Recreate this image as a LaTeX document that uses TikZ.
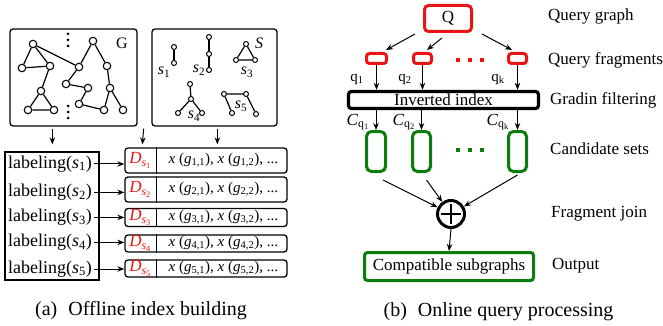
\documentclass[tikz,border=0pt]{standalone}
\usepackage{fontspec}
\setmainfont{Liberation Serif}
\usetikzlibrary{arrows.meta,calc}
\definecolor{qred}{RGB}{235,20,20}
\definecolor{cgreen}{RGB}{10,125,10}
\newcommand\myfs[1]{\fontsize{#1}{#1}\selectfont}
\tikzset{
  gn/.style={circle,draw,line width=1.1pt,inner sep=0pt,minimum size=7.5pt,fill=white},
  sn/.style={circle,draw,line width=1pt,inner sep=0pt,minimum size=5pt,fill=white},
  ge/.style={line width=1.2pt},
  panel/.style={draw,line width=1.3pt,rounded corners=3pt,inner sep=0pt},
  arr/.style={-{Stealth[length=7pt,width=5.5pt]},line width=1pt},
  labtxt/.style={anchor=base west,font=\myfs{18},inner sep=2pt},
  drow/.style={draw,line width=1.3pt,rounded corners=3pt,inner sep=0pt,minimum width=162pt},
  dlab/.style={text=qred,font=\myfs{17},inner sep=0pt},
  xlab/.style={font=\myfs{15},inner sep=0pt},
  redbox/.style={draw=qred,line width=3pt,rounded corners=3pt,inner sep=0pt},
  greenbox/.style={draw=cgreen,line width=3pt,rounded corners=5pt,inner sep=0pt},
  sidelab/.style={anchor=base west,font=\myfs{17},inner sep=0pt},
  qlab/.style={font=\myfs{15},inner sep=0pt},
  dotsq/.style={inner sep=0pt,minimum size=4pt},
  gdot/.style={circle,fill,inner sep=0pt,minimum size=3pt},
  capt/.style={anchor=base,font=\myfs{20},inner sep=0pt}
}
\begin{document}
\begin{tikzpicture}[x=1pt,y=-1pt]
\useasboundingbox (0,0) rectangle (663,326);

% ---------------- (a) left panel ----------------
\node[panel,minimum width=127pt,minimum height=97pt] (Gbox) at (73.5,77.5) {};
\node[panel,minimum width=125pt,minimum height=97pt] (Sbox) at (214.5,77.5) {};
\node[font=\myfs{16},inner sep=0pt] (Glab) at (122,43) {G};
\node[font=\myfs{16},inner sep=0pt] (Slab) at (259,43) {\textit{S}};

% graph G
\node[gn] (a) at (33,44) {};
\node[gn] (b) at (22,68) {};
\node[gn] (c) at (50,66) {};
\node[gn] (d) at (41,91) {};
\node[gn] (e) at (28,110) {};
\node[gn] (f) at (54,110) {};
\node[gn] (g) at (79,67) {};
\node[gn] (h) at (66,84) {};
\node[gn] (i) at (88,88) {};
\node[gn] (j) at (79,104) {};
\node[gn] (k) at (104,110) {};
\node[gn] (l) at (93,41) {};
\node[gn] (m) at (107,66) {};
\node[gn] (n) at (110,88) {};
\node[gn] (o) at (123,110) {};
\draw[ge] (a)--(b) (a)--(c) (a)--(g) (b)--(c) (c)--(d) (d)--(e) (d)--(f) (e)--(f)
          (l)--(g) (l)--(m) (g)--(h) (h)--(i) (i)--(j) (j)--(k) (m)--(n) (n)--(k) (n)--(o);
\node[gdot] (t1) at (68,34) {};
\node[gdot] (t2) at (68,40) {};
\node[gdot] (t3) at (68,46) {};
\node[gdot] (u1) at (68,106) {};
\node[gdot] (u2) at (68,112) {};
\node[gdot] (u3) at (68,118) {};

% fragments S
\node[sn] (p1) at (174,47) {};
\node[sn] (p2) at (174,63) {};
\draw[ge] (p1)--(p2);
\node[sn] (r1) at (209,37) {};
\node[sn] (r2) at (209,54) {};
\node[sn] (r3) at (209,70) {};
\draw[ge] (r1)--(r2)--(r3);
\node[sn] (v1) at (246,44) {};
\node[sn] (v2) at (236,60) {};
\node[sn] (v3) at (255,60) {};
\draw[ge] (v1)--(v2)--(v3)--(v1);
\node[sn] (w1) at (190,84) {};
\node[sn] (w2) at (191,99) {};
\node[sn] (w3) at (178,113) {};
\node[sn] (w4) at (202,113) {};
\draw[ge] (w1)--(w2) (w2)--(w3) (w2)--(w4);
\node[sn] (z1) at (224,94) {};
\node[sn] (z2) at (246,94) {};
\node[sn] (z3) at (232,113) {};
\node[sn] (z4) at (256,114) {};
\draw[ge] (z1)--(z2) (z1)--(z3) (z2)--(z4);
\node[font=\myfs{16},inner sep=0pt] (s1l) at (164,72) {\textit{s}\textsubscript{1}};
\node[font=\myfs{16},inner sep=0pt] (s2l) at (199,70) {\textit{s}\textsubscript{2}};
\node[font=\myfs{16},inner sep=0pt] (s3l) at (247,72) {\textit{s}\textsubscript{3}};
\node[font=\myfs{16},inner sep=0pt] (s4l) at (194,116) {\textit{s}\textsubscript{4}};
\node[font=\myfs{16},inner sep=0pt] (s5l) at (241,106) {\textit{s}\textsubscript{5}};

% labeling box
\node[draw,line width=1.3pt,inner sep=0pt,minimum width=94pt,minimum height=128pt] (lab) at (52,216) {};
\node[labtxt] (l1) at (6,168.3) {labeling(\textit{s}\textsubscript{1})};
\node[labtxt] (l2) at (6,196.7) {labeling(\textit{s}\textsubscript{2})};
\node[labtxt] (l3) at (6,221.7) {labeling(\textit{s}\textsubscript{3})};
\node[labtxt] (l4) at (6,246.7) {labeling(\textit{s}\textsubscript{4})};
\node[labtxt] (l5) at (6,273.3) {labeling(\textit{s}\textsubscript{5})};

% D rows
\node[drow,minimum height=25pt] (d1) at (206,160.5) {};
\node[drow,minimum height=25pt] (d2) at (206,189.5) {};
\node[drow,minimum height=18pt] (d3) at (206,217.5) {};
\node[drow,minimum height=17pt] (d4) at (206,243.5) {};
\node[drow,minimum height=17pt] (d5) at (206,268.5) {};
\foreach \r/\s in {d1/1,d2/2,d3/3,d4/4,d5/5}{
  \draw[line width=0.9pt] ($(\r.north west)+(32,0)$) -- ($(\r.south west)+(32,0)$);
  \node[dlab] at ($(\r.west)+(16,0)$) {\textit{D}\textsubscript{\textit{s}\textsubscript{\s}}};
  \node[xlab] at ($(\r.west)+(99,0)$) {\textit{x} (\textit{g}\textsubscript{\s,1}), \textit{x} (\textit{g}\textsubscript{\s,2}), ...};
}
\foreach \i in {1,...,5}{
  \draw[arr] (l\i.east) -- (l\i.east -| d\i.west);
}
% top arrows
\draw[arr] ($(Gbox.south west)+(43,2)$) -- ($(lab.north west)+(48,-7)$);
\draw[arr] ($(Gbox.south east)+(6,2)$) -- ($(d1.north west)+(18,-3)$);
\draw[arr] ($(Sbox.south west)+(66,2)$) -- ($(d1.north west)+(93,-3)$);

\node[capt] (capa) at (141,315.5) {(a)\hspace{0.55em}Offline index building};

% ---------------- (b) right panel ----------------
\node[redbox,rounded corners=4pt,minimum width=47pt,minimum height=26pt,font=\myfs{17}] (Q) at (448,18.5) {Q};
\node[redbox,minimum width=20pt,minimum height=10pt] (f1) at (376.5,58.5) {};
\node[redbox,minimum width=18pt,minimum height=10pt] (f2) at (422.5,58.5) {};
\node[redbox,minimum width=18pt,minimum height=10pt] (fk) at (517.5,58.5) {};
\node[dotsq,fill=qred] (rd1) at (458,60) {};
\node[dotsq,fill=qred] (rd2) at (470,60) {};
\node[dotsq,fill=qred] (rd3) at (482,60) {};
\draw[arr] ($(Q.south west)+(-8,1)$) -- ($(f1.north east)+(-2,-2)$);
\draw[arr] ($(Q.south)+(-6,5)$) -- ($(f2.north)+(4.5,-2)$);
\draw[arr] ($(Q.south east)+(9,1)$) -- ($(fk.north west)+(5,-2)$);

\node[draw,line width=3.3pt,rounded corners=3pt,inner sep=0pt,minimum width=190pt,minimum height=17pt,font=\myfs{17}] (idx) at (443.5,100) {Inverted index};
\draw[arr] (f1.south) -- (f1.south |- idx.north);
\draw[arr] (f2.south) -- (f2.south |- idx.north);
\draw[arr] (fk.south) -- (fk.south |- idx.north);
\node[qlab] (q1) at (357,79) {q\textsubscript{1}};
\node[qlab] (q2) at (405,79) {q\textsubscript{2}};
\node[qlab] (qk) at (498,79) {q\textsubscript{k}};

\node[greenbox,minimum width=19pt,minimum height=40pt] (c1) at (376,151.5) {};
\node[greenbox,minimum width=18pt,minimum height=40pt] (c2) at (421.5,151.5) {};
\node[greenbox,minimum width=18pt,minimum height=40pt] (ck) at (517.5,151.5) {};
\node[dotsq,fill=cgreen] (gd1) at (458,150) {};
\node[dotsq,fill=cgreen] (gd2) at (470,150) {};
\node[dotsq,fill=cgreen] (gd3) at (482,150) {};
\draw[arr] (c1.north |- idx.south) -- (c1.north);
\draw[arr] (c2.north |- idx.south) -- (c2.north);
\draw[arr] (ck.north |- idx.south) -- (ck.north);
\node[font=\myfs{17},inner sep=0pt] (cq1) at (358,122) {\textit{C}\textsubscript{q\textsubscript{1}}};
\node[font=\myfs{17},inner sep=0pt] (cq2) at (404,122) {\textit{C}\textsubscript{q\textsubscript{2}}};
\node[font=\myfs{17},inner sep=0pt] (cqk) at (498,122) {\textit{C}\textsubscript{q\textsubscript{k}}};

\node[circle,draw,line width=3pt,inner sep=0pt,minimum size=27pt] (join) at (451,214) {};
\draw[line width=2.3pt] ($(join.center)+(-10,0)$) -- ($(join.center)+(10,0)$);
\draw[line width=2.3pt] ($(join.center)+(0,-10)$) -- ($(join.center)+(0,10)$);
\draw[arr] ($(c1.south)+(7,7)$) -- (join);
\draw[arr] ($(c2.south)+(5,7)$) -- (join);
\draw[arr] ($(ck.south)+(0,2)$) -- (join);

\node[greenbox,rounded corners=3pt,minimum width=169pt,minimum height=28pt,font=\myfs{17}] (out) at (449,266.5) {Compatible subgraphs};
\draw[arr] (join.south) -- (out.north);

\node[sidelab] (sl1) at (548,20.5) {Query graph};
\node[sidelab] (sl2) at (548,65) {Query fragments};
\node[sidelab] (sl3) at (550,105) {Gradin filtering};
\node[sidelab] (sl4) at (550,154) {Candidate sets};
\node[sidelab] (sl5) at (551,217) {Fragment join};
\node[sidelab] (sl6) at (552,269) {Output};

\node[capt] (capb) at (498.5,316) {(b)\hspace{0.55em}Online query processing};
\end{tikzpicture}
\end{document}
